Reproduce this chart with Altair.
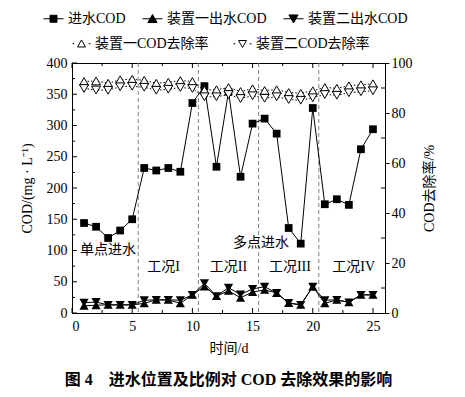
import altair as alt
import pandas as pd

# ---------------- data ----------------
days = list(range(1, 26))
influent = [144, 138, 120, 132, 150, 232, 228, 232, 226, 336, 363, 234, 354, 218, 303,
            311, 287, 136, 111, 328, 174, 182, 173, 262, 294]
eff1 = [11.5, 12.5, 13, 13, 13, 15.5, 21, 21, 15.5, 29, 42.5, 27, 35.5, 24.5, 33.5,
        37, 32, 16, 13, 42, 15.5, 21, 17, 29, 29]
eff2 = [16.5, 17.5, 13, 13, 13, 20.5, 21, 21, 20.5, 29, 47.5, 27, 40.5, 29.5, 38.5,
        42, 32, 16, 13, 42, 20.5, 21, 17, 29, 29]
rem1 = [92.6, 92.8, 91.9, 93.3, 93.5, 93.1, 91.9, 92.3, 93.0, 92.6, 89.2, 89.3, 90.2,
        88.6, 89.7, 89.0, 89.3, 88.2, 87.9, 88.9, 90.2, 89.9, 90.9, 91.3, 91.7]
rem2 = [89.8, 89.2, 89.1, 90.5, 90.7, 90.3, 89.1, 89.5, 90.2, 89.8, 86.5, 86.5, 87.4,
        85.8, 86.9, 85.9, 86.5, 85.4, 85.1, 86.1, 87.4, 87.1, 88.1, 88.5, 88.9]
boundaries = [5.5, 10.5, 15.5, 20.5]
notes = ["单点进水", "多点进水", "工况I", "工况II", "工况III", "工况IV"]
note_x = [3.0, 15.7, 7.6, 13.0, 18.1, 23.4]
note_y = [101, 112, 73, 73, 73, 73]
x_ticks = [0, 5, 10, 15, 20, 25]
x_minor = [2.5, 7.5, 12.5, 17.5, 22.5]
left_ticks = [0, 50, 100, 150, 200, 250, 300, 350, 400]
left_minor = [25, 75, 125, 175, 225, 275, 325, 375]
right_ticks = [0, 20, 40, 60, 80, 100]
right_minor = [10, 30, 50, 70, 90]
cod_names = ["进水COD", "装置一出水COD", "装置二出水COD"]
rate_names = ["装置一COD去除率", "装置二COD去除率"]

FONT = "Liberation Serif, Noto Sans CJK SC"
W, H = 313, 250

df = pd.DataFrame({"day": days, "influent": influent, "eff1": eff1, "eff2": eff2,
                   "rem1": rem1, "rem2": rem2})
df_b = pd.DataFrame({"b": boundaries})
df_n = pd.DataFrame({"nx": note_x, "ny": note_y, "t": notes})
df_l1 = pd.DataFrame({"leg1": cod_names})
df_l2 = pd.DataFrame({"leg2": rate_names})
df_xt = pd.DataFrame({"v": x_ticks})
df_xm = pd.DataFrame({"v": x_minor})
df_lt = pd.DataFrame({"v": left_ticks})
df_lm = pd.DataFrame({"v": left_minor})
df_rm = pd.DataFrame({"v": right_minor})


def X(field):
    return alt.X(field, type="quantitative",
                 scale=alt.Scale(domain=[0, 26], nice=False),
                 axis=alt.Axis(values=x_ticks, title="时间/d", titlePadding=8,
                               ticks=False, labelPadding=6))


def YL(field):
    return alt.Y(field, type="quantitative",
                 scale=alt.Scale(domain=[0, 400], nice=False),
                 axis=alt.Axis(values=left_ticks, title="COD/(mg · L⁻¹)", orient="left",
                               titlePadding=12, ticks=False, labelPadding=5))


def YR(field):
    return alt.Y(field, type="quantitative",
                 scale=alt.Scale(domain=[0, 100], nice=False),
                 axis=alt.Axis(values=right_ticks, title="COD去除率/%", orient="right",
                               titleAngle=270, titleBaseline="top", titlePadding=10,
                               tickSize=4, labelPadding=2))


base = alt.Chart(df)

# inward tick marks
tick_l_major = alt.Chart(df_lt).mark_rule(color="black", strokeWidth=1).encode(
    y=YL("v"), x=alt.value(0), x2=alt.value(5))
tick_l_minor = alt.Chart(df_lm).mark_rule(color="black", strokeWidth=1).encode(
    y=YL("v"), x=alt.value(0), x2=alt.value(3))
tick_b_major = alt.Chart(df_xt).mark_rule(color="black", strokeWidth=1).encode(
    x=X("v"), y=alt.value(H), y2=alt.value(H - 5))
tick_b_minor = alt.Chart(df_xm).mark_rule(color="black", strokeWidth=1).encode(
    x=X("v"), y=alt.value(H), y2=alt.value(H - 3))
tick_t_major = alt.Chart(df_xt).mark_rule(color="black", strokeWidth=1).encode(
    x=X("v"), y=alt.value(0), y2=alt.value(5))
tick_t_minor = alt.Chart(df_xm).mark_rule(color="black", strokeWidth=1).encode(
    x=X("v"), y=alt.value(0), y2=alt.value(3))
tick_r_minor = alt.Chart(df_rm).mark_rule(color="black", strokeWidth=1).encode(
    y=YR("v"), x=alt.value(W), x2=alt.value(W - 4))

rules = alt.Chart(df_b).mark_rule(color="#808080", strokeDash=[4, 3], strokeWidth=1).encode(
    x=X("b"))

texts = alt.Chart(df_n).mark_text(font=FONT, fontSize=14, color="black").encode(
    x=X("nx"), y=YL("ny"), text="t:N")

inf_line = base.mark_line(color="black", strokeWidth=1).encode(x=X("day"), y=YL("influent"))
inf_pts = base.mark_point(shape="square", filled=True, color="black", size=60, opacity=1).encode(
    x=X("day"), y=YL("influent"))
e1_line = base.mark_line(color="black", strokeWidth=1).encode(x=X("day"), y=YL("eff1"))
e1_pts = base.mark_point(shape="triangle-up", filled=True, color="black", size=85, opacity=1).encode(
    x=X("day"), y=YL("eff1"))
e2_line = base.mark_line(color="black", strokeWidth=1).encode(x=X("day"), y=YL("eff2"))
e2_pts = base.mark_point(shape="triangle-down", filled=True, color="black", size=85, opacity=1).encode(
    x=X("day"), y=YL("eff2"))

leg1_paths = [
    "M-1,0H1M-0.35,-0.35H0.35V0.35H-0.35Z",
    "M-1,0H1M0,-0.42L0.46,0.38H-0.46Z",
    "M-1,0H1M0,0.42L0.46,-0.38H-0.46Z",
]
leg1_legend = alt.Legend(orient="none", legendX=-29, legendY=-55,
                         direction="horizontal", title=None,
                         symbolSize=400, labelFontSize=14, labelFont=FONT,
                         columnPadding=14, labelOffset=4, symbolStrokeWidth=1,
                         labelColor="black")
leg1 = alt.Chart(df_l1).mark_point(filled=True, opacity=1, strokeWidth=1).encode(
    x=alt.value(-600), y=alt.value(-600),
    shape=alt.Shape("leg1:N", scale=alt.Scale(domain=cod_names, range=leg1_paths),
                    legend=leg1_legend),
    fill=alt.Fill("leg1:N", scale=alt.Scale(domain=cod_names,
                                            range=["black", "black", "black"]),
                  legend=leg1_legend),
    stroke=alt.Stroke("leg1:N", scale=alt.Scale(domain=cod_names,
                                                range=["black", "black", "black"]),
                      legend=leg1_legend),
)

r1_line = base.mark_line(color="black", strokeWidth=1, strokeDash=[1.5, 2]).encode(
    x=X("day"), y=YR("rem1"))
r2_line = base.mark_line(color="black", strokeWidth=1, strokeDash=[1.5, 2]).encode(
    x=X("day"), y=YR("rem2"))
r1_pts = base.mark_point(shape="triangle-up", filled=False, fill="white", stroke="black",
                         strokeWidth=1, size=80, opacity=1).encode(x=X("day"), y=YR("rem1"))
r2_pts = base.mark_point(shape="triangle-down", filled=False, fill="white", stroke="black",
                         strokeWidth=1, size=80, opacity=1).encode(x=X("day"), y=YR("rem2"))

leg2_paths = [
    "M-1,0H-0.8M0.8,0H1M0,-0.42L0.44,0.36H-0.44Z",
    "M-1,0H-0.8M0.8,0H1M0,0.42L0.44,-0.36H-0.44Z",
]
leg2_legend = alt.Legend(orient="none", legendX=0, legendY=-29,
                         direction="horizontal", title=None,
                         symbolSize=324, labelFontSize=14, labelFont=FONT,
                         columnPadding=22, labelOffset=4, symbolStrokeWidth=1,
                         labelColor="black")
leg2 = alt.Chart(df_l2).mark_point(filled=True, opacity=1, strokeWidth=1).encode(
    x=alt.value(-600), y=alt.value(-600),
    shape=alt.Shape("leg2:N", scale=alt.Scale(domain=rate_names, range=leg2_paths),
                    legend=leg2_legend),
    fill=alt.Fill("leg2:N", scale=alt.Scale(domain=rate_names, range=["white", "white"]),
                  legend=leg2_legend),
    stroke=alt.Stroke("leg2:N", scale=alt.Scale(domain=rate_names, range=["black", "black"]),
                      legend=leg2_legend),
)

left = alt.layer(tick_l_major, tick_l_minor, tick_b_major, tick_b_minor, tick_t_major,
                 tick_t_minor, rules, texts, inf_line, e1_line, e2_line, inf_pts, e1_pts,
                 e2_pts, leg1)
right = alt.layer(tick_r_minor, r1_line, r2_line, r1_pts, r2_pts, leg2)

chart = alt.layer(left, right).resolve_scale(
    y="independent", shape="independent", fill="independent", stroke="independent"
).properties(
    width=W, height=H,
    autosize=alt.AutoSizeParams(type="none"),
    padding={"left": 64, "top": 55, "right": 70, "bottom": 74},
    title=alt.TitleParams(text="图 4　进水位置及比例对 COD 去除效果的影响", orient="bottom",
                          anchor="middle", fontSize=16, fontWeight="bold", font=FONT,
                          color="black", offset=17),
).configure_view(stroke="black", strokeWidth=1).configure_axis(
    grid=False, domainColor="black", tickColor="black", labelColor="black",
    titleColor="black", labelFont=FONT, titleFont=FONT, labelFontSize=14,
    titleFontSize=14, titleFontWeight="normal",
)

chart.save("out.html", embed_options={"renderer": "svg", "actions": False})
